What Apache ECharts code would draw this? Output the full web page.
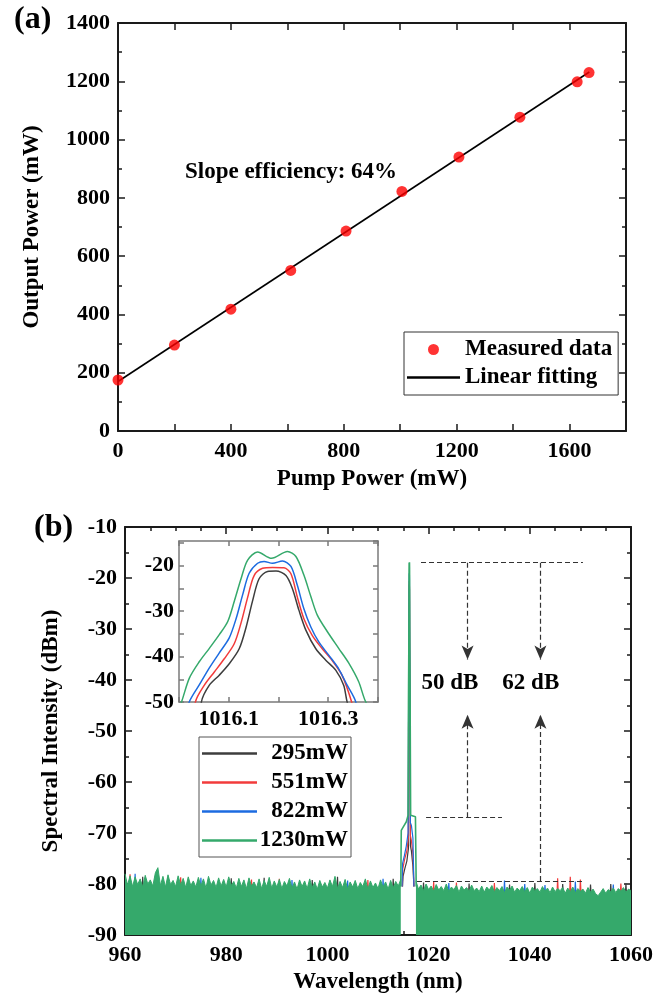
<!DOCTYPE html>
<html>
<head>
<meta charset="utf-8">
<title>Output power and spectra</title>
<script src="https://cdn.jsdelivr.net/npm/echarts@6.0.0/dist/echarts.min.js"></script>
<style>
html, body { margin: 0; padding: 0; background: #fff; }
#chart { width: 668px; height: 1000px; }
</style>
</head>
<body>
<div id="chart"></div>
<script>
// ---- (a) output power vs pump power ----
const pumpPower = [0, 200, 400, 612, 808, 1006, 1208, 1424, 1627, 1669];
const outputPower = [175, 295, 418, 551, 686, 822, 940, 1077, 1198, 1230];
const fitPump = [0, 1670];
const fitOutput = [170, 1232];

// ---- (b) spectra ----
const seriesNames = ['295mW', '551mW', '822mW', '1230mW'];
const noiseStep = 0.5;
const noiseLeftStart = 960;
const greenNoiseLeft = [
  -78.0, -80.2, -78.4, -80.5, -78.6, -80.1, -79.0, -80.6, -78.3, -80.0,
  -79.2, -80.4, -77.8, -76.8, -80.3, -78.5, -80.6, -78.2, -80.1, -79.3,
  -80.5, -78.4, -80.2, -78.9, -80.7, -78.6, -80.3, -79.4, -80.6, -78.7,
  -80.4, -79.0, -80.8, -78.5, -80.2, -79.3, -80.7, -78.8, -80.4, -79.1,
  -80.6, -78.6, -80.3, -79.5, -80.8, -78.9, -80.5, -79.2, -80.9, -78.8,
  -80.4, -79.6, -80.7, -79.0, -80.9, -79.3, -80.5, -78.7, -80.8, -79.4,
  -80.6, -79.1, -80.9, -79.5, -80.4, -78.9, -80.8, -79.6, -81.0, -79.2,
  -80.5, -79.4, -80.9, -79.0, -80.7, -79.6, -81.0, -79.3, -80.6, -79.7,
  -80.8, -79.2, -80.5, -78.5, -80.9, -79.5, -80.7, -79.1, -81.0, -79.6,
  -80.6, -79.3, -80.9, -79.7, -80.5, -79.0, -81.0, -79.4, -80.7, -79.8,
  -80.9, -79.2, -80.6, -79.6, -81.0, -79.3, -80.8, -79.5, -80.4, -79.1
];
const noiseRightStart = 1017.5;
const greenNoiseRight = [
  -79.4, -81.0, -80.2, -81.3, -80.0, -81.1, -80.4, -81.4, -80.1, -81.2,
  -80.5, -81.3, -80.0, -81.5, -80.6, -81.1, -80.3, -81.6, -80.4, -81.2,
  -80.7, -81.4, -80.2, -81.3, -80.8, -81.5, -80.4, -81.6, -80.6, -81.2,
  -80.3, -81.5, -80.7, -81.3, -80.5, -81.7, -80.6, -81.2, -80.4, -81.6,
  -80.8, -81.3, -80.5, -81.5, -80.7, -81.8, -80.6, -81.3, -80.9, -81.6,
  -80.5, -81.4, -80.8, -81.7, -80.6, -81.5, -80.9, -81.3, -80.7, -81.8,
  -80.8, -81.5, -80.6, -81.7, -80.9, -81.4, -81.0, -81.8, -80.7, -81.6,
  -81.0, -81.9, -82.3, -81.6, -80.9, -81.8, -81.1, -81.5, -80.8, -81.7,
  -80.9, -81.4, -80.7, -81.6, -81.0, -81.3
];

// noise spikes of the lower-power traces that show above the green trace: [nm, dBm]
const spikesBlack = [[963.5, -78.6], [968.5, -78.7], [981, -78.9], [987.5, -78.8], [997, -79.2], [1002, -78.6], [1013, -79.0],
  [1019, -79.7], [1028, -79.9], [1036, -80.1], [1041, -79.8], [1046.5, -80.0], [1052, -80.1], [1056, -80.0], [1059, -79.9]];
const spikesRed = [[961, -78.1], [971, -78.7], [985, -79.1], [990.5, -79.0], [1008, -79.2], [1021, -79.6], [1025.5, -79.7],
  [1033, -79.8], [1045.5, -78.9], [1048, -78.6], [1050, -79.1], [1058, -79.9]];
const spikesBlue = [[962, -78.0], [966, -78.5], [975, -78.8], [993, -79.2], [1004, -79.3], [1011, -79.0], [1024, -79.8],
  [1035, -79.3], [1039, -80.0], [1043, -80.2], [1049, -79.5], [1056.5, -80.1]];

// laser line (pedestal + peak) for each pump power: [nm, dBm]
const peakBlack = [[1014.85, -80.5], [1014.95, -78.5], [1015.3, -77], [1015.7, -75.5], [1016.02, -73],
  [1016.045, -50], [1016.061, -46.3], [1016.081, -44.1], [1016.101, -41.6], [1016.121, -38.3], [1016.135, -33.5],
  [1016.148, -27.7], [1016.161, -22.9], [1016.178, -21.3], [1016.195, -21.2], [1016.215, -22.2], [1016.228, -25.1],
  [1016.241, -29.8], [1016.255, -34.2], [1016.275, -38.3], [1016.295, -40.8], [1016.315, -43.0], [1016.331, -46.3],
  [1016.338, -50], [1016.4, -72.5], [1016.6, -73.5], [1016.9, -76.5], [1017.1, -80.5]];
const peakRed = [[1014.8, -80.5], [1014.9, -77], [1015.3, -75], [1015.7, -73.5], [1016.0, -71],
  [1016.033, -50], [1016.051, -46.3], [1016.071, -43.4], [1016.091, -40.5], [1016.111, -37.2], [1016.125, -32.5],
  [1016.138, -27.0], [1016.151, -22.2], [1016.168, -20.6], [1016.188, -20.4], [1016.211, -20.5], [1016.225, -21.8],
  [1016.238, -27.0], [1016.251, -31.7], [1016.268, -35.4], [1016.288, -38.3], [1016.308, -40.9], [1016.328, -44.2],
  [1016.347, -50], [1016.4, -70.5], [1016.6, -71.5], [1016.9, -74], [1017.1, -80.5]];
const peakBlue = [[1014.75, -80.5], [1014.85, -76], [1015.2, -74.5], [1015.6, -72.5], [1015.95, -70],
  [1016.021, -49.9], [1016.041, -46.2], [1016.061, -42.5], [1016.081, -39.2], [1016.101, -35.9], [1016.115, -31.6],
  [1016.128, -26.4], [1016.141, -21.7], [1016.158, -19.5], [1016.171, -19.1], [1016.188, -19.5], [1016.208, -19.0],
  [1016.225, -20.2], [1016.238, -24.4], [1016.251, -29.5], [1016.265, -33.5], [1016.281, -36.8], [1016.301, -39.7],
  [1016.321, -42.7], [1016.338, -46.3], [1016.355, -49.9], [1016.4, -68], [1016.6, -68.5], [1016.9, -71], [1017.1, -80.5]];
const peakGreen = [[1014.5, -80.5], [1014.6, -69.5], [1015.0, -68.8], [1015.6, -67.8], [1015.95, -66.5],
  [1016.005, -50.0], [1016.021, -44.7], [1016.041, -41.1], [1016.061, -38.2], [1016.081, -35.2], [1016.098, -32.3],
  [1016.111, -27.9], [1016.125, -22.8], [1016.138, -18.8], [1016.158, -17.0], [1016.186, -18.4], [1016.218, -16.9],
  [1016.235, -18.0], [1016.251, -22.1], [1016.265, -26.8], [1016.278, -30.9], [1016.298, -34.5], [1016.321, -38.2],
  [1016.341, -41.4], [1016.361, -45.5], [1016.375, -49.9], [1016.45, -66.5], [1016.7, -66.8], [1017.4, -66.8], [1017.55, -80.5]];

// extinction-ratio annotations (nm, dBm)
const levelPeak = -17, levelPedestal = -66.9, levelFloor = -79.4;
const arrowX50 = 1027.7, arrowX62 = 1042.1;
const arrowDownEnd = -36.0, arrowUpEnd = -46.8;
const labelY = -40.6;
const labels = [['50 dB', 1024.2], ['62 dB', 1040.2]];

const FONT = 'Liberation Serif';
const colors = ['#3d3d3d', '#f23b3b', '#1c6be0', '#35a96b'];
const axisColor = '#1a1a1a';
const insetColor = '#7a7a7a';
const lineIcon = 'path://M0,0H100V4.5H0Z';

const pairs = (start, values) => values.map((v, i) => [start + i * noiseStep, v]);
function spikeLine(spikes) {
  const out = [];
  spikes.forEach(([w, p]) => { out.push([w - 0.15, -82.5], [w, p], [w + 0.15, -82.5], null); });
  return out;
}

const labelFont = { color: '#000', fontFamily: FONT, fontWeight: 'bold', fontSize: 22 };
const nameFont = { color: '#000', fontFamily: FONT, fontWeight: 'bold', fontSize: 23 };

function axis(extra, showLabels, color, tickLen) {
  const c = color || axisColor;
  const len = tickLen || 7;
  return Object.assign({
    type: 'value',
    axisLine: { show: true, onZero: false, lineStyle: { color: c, width: color ? 1.5 : 2 } },
    axisTick: { show: true, inside: true, length: len, lineStyle: { color: c, width: 1.5 } },
    minorTick: { show: false },
    splitLine: { show: false },
    axisLabel: Object.assign({ show: showLabels, margin: 8, formatter: v => String(v) }, labelFont)
  }, extra);
}
const minor = (n) => ({ show: true, splitNumber: n, length: 4, lineStyle: { color: axisColor, width: 1.5 } });

const dashed = { color: '#333', width: 1.2, type: [5, 3] };
const arrowEnd = (x, y) => ({ coord: [x, y], symbol: 'arrow', symbolSize: [9, 14] });
const annotationLines = [
  [{ coord: [1018.5, levelPeak] }, { coord: [1050.5, levelPeak] }],
  [{ coord: [1019.5, levelPedestal] }, { coord: [1034.5, levelPedestal] }],
  [{ coord: [1017.7, levelFloor] }, { coord: [1050.9, levelFloor] }],
  [{ coord: [arrowX50, levelPeak] }, arrowEnd(arrowX50, arrowDownEnd)],
  [{ coord: [arrowX62, levelPeak] }, arrowEnd(arrowX62, arrowDownEnd)],
  [{ coord: [arrowX50, levelPedestal] }, arrowEnd(arrowX50, arrowUpEnd)],
  [{ coord: [arrowX62, levelFloor] }, arrowEnd(arrowX62, arrowUpEnd)]
];

const chart = echarts.init(document.getElementById('chart'), null, { renderer: 'canvas' });

const option = {
  animation: false,
  backgroundColor: '#fff',
  grid: [
    { left: 118, top: 23, width: 508, height: 408 },
    { left: 125, top: 527, width: 506, height: 408 },
    { left: 179, top: 541, width: 199, height: 161 }
  ],
  xAxis: [
    axis({ gridIndex: 0, min: 0, max: 1800, interval: 200, name: 'Pump Power (mW)', nameLocation: 'middle', nameGap: 37,
      nameTextStyle: nameFont, axisLabel: Object.assign({ show: true, margin: 9, showMaxLabel: false,
        formatter: v => (v % 400 === 0 ? String(v) : '') }, labelFont) }, true),
    axis({ gridIndex: 0, position: 'top', min: 0, max: 1800, interval: 200 }, false),
    axis({ gridIndex: 1, min: 960, max: 1060, interval: 20, minorTick: minor(4), name: 'Wavelength (nm)',
      nameLocation: 'middle', nameGap: 36, nameTextStyle: nameFont,
      axisLabel: Object.assign({ show: true, margin: 9, formatter: v => String(v) }, labelFont) }, true),
    axis({ gridIndex: 1, position: 'top', min: 960, max: 1060, interval: 20, minorTick: minor(4) }, false),
    axis({ gridIndex: 2, min: 1016.0, max: 1016.4, interval: 0.1, axisLabel: Object.assign({ show: true, margin: 6,
      formatter: v => (Math.round((v - 1016) * 10) % 2 === 1 ? v.toFixed(1) : '') }, labelFont) }, true, insetColor, 5),
    axis({ gridIndex: 2, position: 'top', min: 1016.0, max: 1016.4, interval: 0.1 }, false, insetColor, 5)
  ],
  yAxis: [
    axis({ gridIndex: 0, min: 0, max: 1400, interval: 200, minorTick: minor(2), name: 'Output Power (mW)',
      nameLocation: 'middle', nameGap: 74, nameRotate: 90, nameTextStyle: nameFont }, true),
    axis({ gridIndex: 0, position: 'right', min: 0, max: 1400, interval: 200, minorTick: minor(2) }, false),
    axis({ gridIndex: 1, min: -90, max: -10, interval: 10, minorTick: minor(2), name: 'Spectral Intensity (dBm)',
      nameLocation: 'middle', nameGap: 62, nameRotate: 90, nameTextStyle: nameFont }, true),
    axis({ gridIndex: 1, position: 'right', min: -90, max: -10, interval: 10, minorTick: minor(2) }, false),
    axis({ gridIndex: 2, min: -50, max: -14.6, interval: 5, axisLabel: Object.assign({ show: true, margin: 5,
      showMaxLabel: false, formatter: v => (v % 10 === 0 ? String(v) : '') }, labelFont) }, true, insetColor, 5),
    axis({ gridIndex: 2, position: 'right', min: -50, max: -14.6, interval: 5 }, false, insetColor, 5)
  ],
  legend: [
    {
      data: [{ name: 'Measured data', icon: 'circle' }, { name: 'Linear fitting', icon: lineIcon }],
      orient: 'vertical', left: 404, top: 332, itemWidth: 53, itemHeight: 11, itemGap: 5,
      backgroundColor: '#fff', borderColor: '#333', borderWidth: 1, borderRadius: 0, padding: [6, 6, 6, 3],
      textStyle: Object.assign({ lineHeight: 22 }, nameFont)
    },
    {
      data: seriesNames.map(n => ({ name: n, icon: lineIcon })),
      orient: 'vertical', left: 199, top: 737, itemWidth: 55, itemHeight: 14, itemGap: 6,
      backgroundColor: '#fff', borderColor: '#555', borderWidth: 1, borderRadius: 0, padding: [5, 3, 5, 3],
      formatter: name => '{t|' + name + '}',
      textStyle: { rich: { t: Object.assign({ width: 86, align: 'right', lineHeight: 24 }, nameFont) } }
    }
  ],
  graphic: [
    { type: 'text', left: 14, top: 4, style: { text: '(a)', fill: '#000', font: 'bold 32px "Liberation Serif"' } },
    { type: 'text', left: 34, top: 512, style: { text: '(b)', fill: '#000', font: 'bold 32px "Liberation Serif"' } }
  ],
  series: [
    {
      name: 'Measured data', type: 'scatter', xAxisIndex: 0, yAxisIndex: 0,
      data: pumpPower.map((p, i) => [p, outputPower[i]]),
      symbol: 'circle', symbolSize: 11, itemStyle: { color: '#ff0000' }, z: 3
    },
    {
      name: 'Linear fitting', type: 'line', xAxisIndex: 0, yAxisIndex: 0,
      data: fitPump.map((p, i) => [p, fitOutput[i]]),
      symbol: 'none', lineStyle: { color: '#000', width: 1.6 }, itemStyle: { color: '#000' }, z: 2,
      markPoint: {
        silent: true, symbol: 'rect', symbolSize: 1, itemStyle: { color: 'rgba(0,0,0,0)' },
        label: Object.assign({ show: true, position: 'inside', formatter: p => p.name }, nameFont),
        data: [{ name: 'Slope efficiency: 64%', coord: [613, 889] }]
      }
    },
    // main spectrum: lower-power traces first, the green trace covers them
    ...[spikesBlack, spikesRed, spikesBlue].map((sp, k) => ({
      name: seriesNames[k], type: 'line', xAxisIndex: 2, yAxisIndex: 2, z: 2,
      data: spikeLine(sp).concat([peakBlack, peakRed, peakBlue][k]),
      symbol: 'none', connectNulls: false,
      lineStyle: { color: colors[k], width: 1.2 }, itemStyle: { color: colors[k] }
    })),
    {
      name: seriesNames[3], type: 'line', xAxisIndex: 2, yAxisIndex: 2, z: 3,
      data: pairs(noiseLeftStart, greenNoiseLeft).concat([null], pairs(noiseRightStart, greenNoiseRight)),
      symbol: 'none', connectNulls: false,
      lineStyle: { color: colors[3], width: 1 }, itemStyle: { color: colors[3] },
      areaStyle: { color: colors[3], opacity: 1, origin: 'start' }
    },
    {
      name: seriesNames[3], type: 'line', xAxisIndex: 2, yAxisIndex: 2, z: 4,
      data: peakGreen, symbol: 'none',
      lineStyle: { color: colors[3], width: 1.6 }, itemStyle: { color: colors[3] },
      markLine: {
        silent: true, symbol: ['none', 'none'], label: { show: false },
        lineStyle: dashed, emphasis: { disabled: true },
        data: annotationLines
      },
      markPoint: {
        silent: true, symbol: 'rect', symbolSize: 1, itemStyle: { color: 'rgba(0,0,0,0)' },
        label: Object.assign({ show: true, position: 'inside', formatter: p => p.name }, nameFont),
        data: labels.map(([t, x]) => ({ name: t, coord: [x, labelY] }))
      }
    },
    // inset
    ...[peakBlack, peakRed, peakBlue, peakGreen].map((d, k) => ({
      name: seriesNames[k], type: 'line', xAxisIndex: 4, yAxisIndex: 4, z: 2,
      data: d, symbol: 'none', smooth: 0.3,
      lineStyle: { color: colors[k], width: 1.5 }, itemStyle: { color: colors[k] }
    }))
  ]
};

chart.setOption(option);
window.addEventListener('resize', chart.resize);
</script>
</body>
</html>
